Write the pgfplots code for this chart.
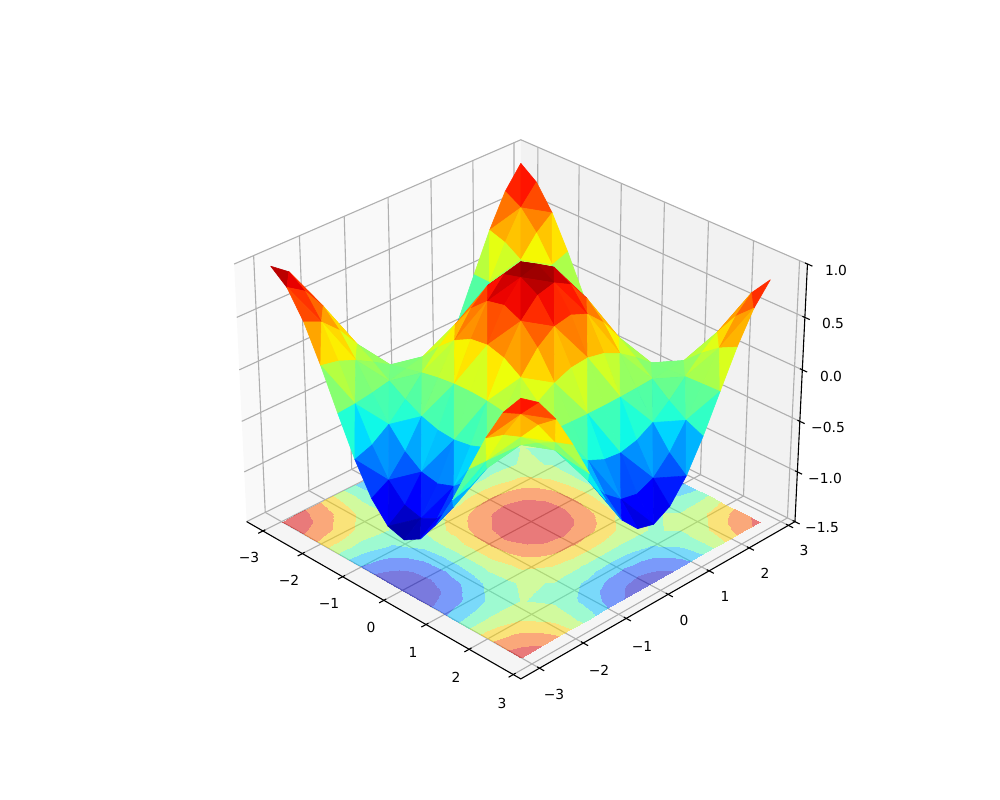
\documentclass[border=0pt]{standalone}
\usepackage{fontspec}
\setmainfont{DejaVu Sans}
\usepackage{pgfplots}
\usepackage{pgfplotstable}
\pgfplotsset{compat=1.18}
\usepgfplotslibrary{patchplots}
% perspective of the reference: elevation 30, azimuth -45
\newcommand\PD[3]{(10-0.11065*((#1)-(#2))-0.17857*((#3)+0.25))}
\newcommand\PX[3]{520.8+425.43*((#1)+(#2)+0.25)/\PD{#1}{#2}{#3}}
\newcommand\PY[3]{404.3+3329.7*(0.06389*((#2)-(#1))+0.3093*((#3)+0.25))/\PD{#1}{#2}{#3}}
\pgfplotsset{
  table/proj/.style={row sep=\\,
    x expr={\PX{\thisrow{x}}{\thisrow{y}}{\thisrow{z}}},
    y expr={\PY{\thisrow{x}}{\thisrow{y}}{\thisrow{z}}}},
  table/projfloor/.style={meta=z,
    x expr={\PX{\thisrow{x}}{\thisrow{y}}{-1.5}},
    y expr={\PY{\thisrow{x}}{\thisrow{y}}{-1.5}}},
  table/projsurf/.style={meta=z,
    x expr={\PX{\thisrow{x}}{\thisrow{y}}{\thisrow{z}}},
    y expr={\PY{\thisrow{x}}{\thisrow{y}}{\thisrow{z}}}},
}
\definecolor{gridc}{rgb}{0.69,0.69,0.69}
\pgfplotstableread[row sep=\\]{
x y z\\
-3 -3 0.980\\ -3 -2.617 0.856\\ -3 -2.233 0.609\\ -3 -1.85 0.273\\ -3 -1.467 -0.103\\ -3 -1.083 -0.463\\ -3 -0.7 -0.757\\ -3 -0.317 -0.941\\ -3 0.067 -0.988\\ -3 0.45 -0.891\\ -3 0.833 -0.666\\ -3 1.217 -0.344\\ -3 1.6 0.029\\ -3 1.983 0.397\\ -3 2.367 0.708\\ -3 2.75 0.915\\
-2.617 -3 0.856\\ -2.617 -2.617 0.748\\ -2.617 -2.233 0.532\\ -2.617 -1.85 0.239\\ -2.617 -1.467 -0.090\\ -2.617 -1.083 -0.405\\ -2.617 -0.7 -0.662\\ -2.617 -0.317 -0.822\\ -2.617 0.067 -0.863\\ -2.617 0.45 -0.779\\ -2.617 0.833 -0.582\\ -2.617 1.217 -0.300\\ -2.617 1.6 0.025\\ -2.617 1.983 0.347\\ -2.617 2.367 0.618\\ -2.617 2.75 0.799\\
-2.233 -3 0.609\\ -2.233 -2.617 0.532\\ -2.233 -2.233 0.378\\ -2.233 -1.85 0.170\\ -2.233 -1.467 -0.064\\ -2.233 -1.083 -0.288\\ -2.233 -0.7 -0.470\\ -2.233 -0.317 -0.584\\ -2.233 0.067 -0.614\\ -2.233 0.45 -0.554\\ -2.233 0.833 -0.414\\ -2.233 1.217 -0.213\\ -2.233 1.6 0.018\\ -2.233 1.983 0.247\\ -2.233 2.367 0.440\\ -2.233 2.75 0.568\\
-1.85 -3 0.273\\ -1.85 -2.617 0.239\\ -1.85 -2.233 0.170\\ -1.85 -1.85 0.076\\ -1.85 -1.467 -0.029\\ -1.85 -1.083 -0.129\\ -1.85 -0.7 -0.211\\ -1.85 -0.317 -0.262\\ -1.85 0.067 -0.275\\ -1.85 0.45 -0.248\\ -1.85 0.833 -0.186\\ -1.85 1.217 -0.096\\ -1.85 1.6 0.008\\ -1.85 1.983 0.111\\ -1.85 2.367 0.197\\ -1.85 2.75 0.255\\
-1.467 -3 -0.103\\ -1.467 -2.617 -0.090\\ -1.467 -2.233 -0.064\\ -1.467 -1.85 -0.029\\ -1.467 -1.467 0.011\\ -1.467 -1.083 0.049\\ -1.467 -0.7 0.080\\ -1.467 -0.317 0.099\\ -1.467 0.067 0.104\\ -1.467 0.45 0.094\\ -1.467 0.833 0.070\\ -1.467 1.217 0.036\\ -1.467 1.6 -0.003\\ -1.467 1.983 -0.042\\ -1.467 2.367 -0.074\\ -1.467 2.75 -0.096\\
-1.083 -3 -0.463\\ -1.083 -2.617 -0.405\\ -1.083 -2.233 -0.288\\ -1.083 -1.85 -0.129\\ -1.083 -1.467 0.049\\ -1.083 -1.083 0.219\\ -1.083 -0.7 0.358\\ -1.083 -0.317 0.445\\ -1.083 0.067 0.467\\ -1.083 0.45 0.421\\ -1.083 0.833 0.315\\ -1.083 1.217 0.162\\ -1.083 1.6 -0.014\\ -1.083 1.983 -0.188\\ -1.083 2.367 -0.335\\ -1.083 2.75 -0.432\\
-0.7 -3 -0.757\\ -0.7 -2.617 -0.662\\ -0.7 -2.233 -0.470\\ -0.7 -1.85 -0.211\\ -0.7 -1.467 0.080\\ -0.7 -1.083 0.358\\ -0.7 -0.7 0.585\\ -0.7 -0.317 0.727\\ -0.7 0.067 0.763\\ -0.7 0.45 0.689\\ -0.7 0.833 0.515\\ -0.7 1.217 0.265\\ -0.7 1.6 -0.022\\ -0.7 1.983 -0.307\\ -0.7 2.367 -0.547\\ -0.7 2.75 -0.707\\
-0.317 -3 -0.941\\ -0.317 -2.617 -0.822\\ -0.317 -2.233 -0.584\\ -0.317 -1.85 -0.262\\ -0.317 -1.467 0.099\\ -0.317 -1.083 0.445\\ -0.317 -0.7 0.727\\ -0.317 -0.317 0.903\\ -0.317 0.067 0.948\\ -0.317 0.45 0.855\\ -0.317 0.833 0.639\\ -0.317 1.217 0.330\\ -0.317 1.6 -0.028\\ -0.317 1.983 -0.381\\ -0.317 2.367 -0.679\\ -0.317 2.75 -0.878\\
0.067 -3 -0.988\\ 0.067 -2.617 -0.863\\ 0.067 -2.233 -0.614\\ 0.067 -1.85 -0.275\\ 0.067 -1.467 0.104\\ 0.067 -1.083 0.467\\ 0.067 -0.7 0.763\\ 0.067 -0.317 0.948\\ 0.067 0.067 0.996\\ 0.067 0.45 0.898\\ 0.067 0.833 0.672\\ 0.067 1.217 0.346\\ 0.067 1.6 -0.029\\ 0.067 1.983 -0.400\\ 0.067 2.367 -0.714\\ 0.067 2.75 -0.922\\
0.45 -3 -0.891\\ 0.45 -2.617 -0.779\\ 0.45 -2.233 -0.554\\ 0.45 -1.85 -0.248\\ 0.45 -1.467 0.094\\ 0.45 -1.083 0.421\\ 0.45 -0.7 0.689\\ 0.45 -0.317 0.855\\ 0.45 0.067 0.898\\ 0.45 0.45 0.810\\ 0.45 0.833 0.606\\ 0.45 1.217 0.312\\ 0.45 1.6 -0.026\\ 0.45 1.983 -0.361\\ 0.45 2.367 -0.644\\ 0.45 2.75 -0.832\\
0.833 -3 -0.666\\ 0.833 -2.617 -0.582\\ 0.833 -2.233 -0.414\\ 0.833 -1.85 -0.186\\ 0.833 -1.467 0.070\\ 0.833 -1.083 0.315\\ 0.833 -0.7 0.515\\ 0.833 -0.317 0.639\\ 0.833 0.067 0.672\\ 0.833 0.45 0.606\\ 0.833 0.833 0.453\\ 0.833 1.217 0.234\\ 0.833 1.6 -0.020\\ 0.833 1.983 -0.270\\ 0.833 2.367 -0.481\\ 0.833 2.75 -0.622\\
1.217 -3 -0.344\\ 1.217 -2.617 -0.300\\ 1.217 -2.233 -0.213\\ 1.217 -1.85 -0.096\\ 1.217 -1.467 0.036\\ 1.217 -1.083 0.162\\ 1.217 -0.7 0.265\\ 1.217 -0.317 0.330\\ 1.217 0.067 0.346\\ 1.217 0.45 0.312\\ 1.217 0.833 0.234\\ 1.217 1.217 0.120\\ 1.217 1.6 -0.010\\ 1.217 1.983 -0.139\\ 1.217 2.367 -0.248\\ 1.217 2.75 -0.321\\
1.6 -3 0.029\\ 1.6 -2.617 0.025\\ 1.6 -2.233 0.018\\ 1.6 -1.85 0.008\\ 1.6 -1.467 -0.003\\ 1.6 -1.083 -0.014\\ 1.6 -0.7 -0.022\\ 1.6 -0.317 -0.028\\ 1.6 0.067 -0.029\\ 1.6 0.45 -0.026\\ 1.6 0.833 -0.020\\ 1.6 1.217 -0.010\\ 1.6 1.6 0.001\\ 1.6 1.983 0.012\\ 1.6 2.367 0.021\\ 1.6 2.75 0.027\\
1.983 -3 0.397\\ 1.983 -2.617 0.347\\ 1.983 -2.233 0.247\\ 1.983 -1.85 0.111\\ 1.983 -1.467 -0.042\\ 1.983 -1.083 -0.188\\ 1.983 -0.7 -0.307\\ 1.983 -0.317 -0.381\\ 1.983 0.067 -0.400\\ 1.983 0.45 -0.361\\ 1.983 0.833 -0.270\\ 1.983 1.217 -0.139\\ 1.983 1.6 0.012\\ 1.983 1.983 0.161\\ 1.983 2.367 0.287\\ 1.983 2.75 0.371\\
2.367 -3 0.708\\ 2.367 -2.617 0.618\\ 2.367 -2.233 0.440\\ 2.367 -1.85 0.197\\ 2.367 -1.467 -0.074\\ 2.367 -1.083 -0.335\\ 2.367 -0.7 -0.547\\ 2.367 -0.317 -0.679\\ 2.367 0.067 -0.714\\ 2.367 0.45 -0.644\\ 2.367 0.833 -0.481\\ 2.367 1.217 -0.248\\ 2.367 1.6 0.021\\ 2.367 1.983 0.287\\ 2.367 2.367 0.511\\ 2.367 2.75 0.661\\
2.75 -3 0.915\\ 2.75 -2.617 0.799\\ 2.75 -2.233 0.568\\ 2.75 -1.85 0.255\\ 2.75 -1.467 -0.096\\ 2.75 -1.083 -0.432\\ 2.75 -0.7 -0.707\\ 2.75 -0.317 -0.878\\ 2.75 0.067 -0.922\\ 2.75 0.45 -0.832\\ 2.75 0.833 -0.622\\ 2.75 1.217 -0.321\\ 2.75 1.6 0.027\\ 2.75 1.983 0.371\\ 2.75 2.367 0.661\\ 2.75 2.75 0.854\\
}\verts
% triangles, back to front (vertex numbers only), written as one row per line to a small file
\newwrite\triout
\immediate\openout\triout=tris.dat
\foreach \i in {0,...,14}{\foreach \j in {14,13,...,0}{%
  \edef\va{\the\numexpr16*\i+\j\relax}%
  \edef\vb{\the\numexpr16*\i+16+\j\relax}%
  \edef\vc{\the\numexpr16*\i+16+\j+1\relax}%
  \edef\vd{\the\numexpr16*\i+\j+1\relax}%
  \ifodd\numexpr\i+\j\relax
    \immediate\write\triout{\va\space\vc\space\vd}%
    \immediate\write\triout{\va\space\vb\space\vc}%
  \else
    \immediate\write\triout{\va\space\vb\space\vd}%
    \immediate\write\triout{\vb\space\vc\space\vd}%
  \fi
}}
\immediate\closeout\triout
\begin{document}
\begin{tikzpicture}
\useasboundingbox (0,0) rectangle (10in,8in);
\begin{axis}[at={(0,0)}, anchor=south west,
  scale only axis, width=10in, height=8in,
  xmin=0, xmax=1000, ymin=0, ymax=800,
  hide axis, clip=false,
  point meta min=-1, point meta max=1,
  colormap={mpljet}{rgb(0pt)=(0,0,.5) rgb(110pt)=(0,0,1) rgb(125pt)=(0,0,1) rgb(340pt)=(0,.86,1) rgb(350pt)=(0,.9,.97) rgb(375pt)=(.08,1,.887) rgb(640pt)=(.935,1,.032) rgb(650pt)=(.968,.963,0) rgb(660pt)=(1,.926,0) rgb(890pt)=(1,.074,0) rgb(910pt)=(.909,0,0) rgb(1000pt)=(.5,0,0)},
  colormap={floorbands}{rgb=(0,0,.784) rgb=(0,.25,1) rgb=(0,.75,1) rgb=(.282,1,.685) rgb=(.685,1,.282) rgb=(1,.824,0) rgb=(1,.361,0) rgb=(.875,0,0)},
]
% panes
\addplot[fill={rgb,1:red,.975;green,.975;blue,.975},draw=none] table[proj]{x y z\\ -3.419 -3.419 -1.5\\ -3.419 3.169 -1.5\\ -3.419 3.169 1\\ -3.419 -3.419 1\\};
\addplot[fill={rgb,1:red,.95;green,.95;blue,.95},draw=none] table[proj]{x y z\\ -3.419 3.169 -1.5\\ 3.169 3.169 -1.5\\ 3.169 3.169 1\\ -3.419 3.169 1\\};
\addplot[fill={rgb,1:red,.9625;green,.9625;blue,.9625},draw=none] table[proj]{x y z\\ -3.419 -3.419 -1.5\\ 3.169 -3.419 -1.5\\ 3.169 3.169 -1.5\\ -3.419 3.169 -1.5\\};
% grid
\pgfplotsinvokeforeach{-3,-2,-1,0,1,2,3}{
  \addplot[gridc,line width=.8pt] table[proj]{x y z\\ #1 -3.419 -1.5\\ #1 3.169 -1.5\\ #1 3.169 1\\};
  \addplot[gridc,line width=.8pt] table[proj]{x y z\\ 3.169 #1 -1.5\\ -3.419 #1 -1.5\\ -3.419 #1 1\\};
}
\pgfplotsinvokeforeach{-1.5,-1,-0.5,0,0.5,1}{
  \addplot[gridc,line width=.8pt] table[proj]{x y z\\ -3.419 -3.419 #1\\ -3.419 3.169 #1\\ 3.169 3.169 #1\\};
}
% axis lines
\addplot[black,line width=.8pt] table[proj]{x y z\\ -3.419 -3.419 -1.5\\ 3.169 -3.419 -1.5\\ 3.169 3.169 -1.5\\ 3.169 3.169 1\\};
\pgfplotsinvokeforeach{-3,-2,-1,0,1,2,3}{
  \addplot[black,line width=.8pt] table[proj]{x y z\\ #1 -3.366 -1.5\\ #1 -3.524 -1.5\\};
  \addplot[black,line width=.8pt] table[proj]{x y z\\ 3.116 #1 -1.5\\ 3.274 #1 -1.5\\};
}
\pgfplotsinvokeforeach{-1.5,-1,-0.5,0,0.5,1}{
  \addplot[black,line width=.8pt] table[proj]{x y z\\ 3.116 3.169 #1\\ 3.274 3.169 #1\\};
}
% filled contours on the floor
\addplot[patch, patch table={tris.dat}, shader=interp, colormap name=floorbands,
  colormap access=piecewise constant, opacity=.5, point meta=explicit]
  table[projfloor]{\verts};
% surface
\addplot[patch, patch table={tris.dat}, shader=flat, colormap name=mpljet, point meta=explicit]
  table[projsurf]{\verts};
% tick labels
\tikzset{tl/.style={font=\fontsize{10}{12}\selectfont,inner sep=0pt}}
\node[tl] at (axis cs:249,243) {−3};
\node[tl] at (axis cs:289,220) {−2};
\node[tl] at (axis cs:329,197) {−1};
\node[tl] at (axis cs:371,173) {0};
\node[tl] at (axis cs:413,148) {1};
\node[tl] at (axis cs:456,123) {2};
\node[tl] at (axis cs:502,97) {3};
\node[tl] at (axis cs:554,106) {−3};
\node[tl] at (axis cs:599,130) {−2};
\node[tl] at (axis cs:642,154) {−1};
\node[tl] at (axis cs:684,180) {0};
\node[tl] at (axis cs:725,204) {1};
\node[tl] at (axis cs:765,227) {2};
\node[tl] at (axis cs:804,250) {3};
\node[tl] at (axis cs:836,530) {1.0};
\node[tl] at (axis cs:833,477) {0.5};
\node[tl] at (axis cs:831,424) {0.0};
\node[tl] at (axis cs:828,373) {−0.5};
\node[tl] at (axis cs:825,322) {−1.0};
\node[tl] at (axis cs:822,272) {−1.5};
\end{axis}
\end{tikzpicture}
\end{document}
